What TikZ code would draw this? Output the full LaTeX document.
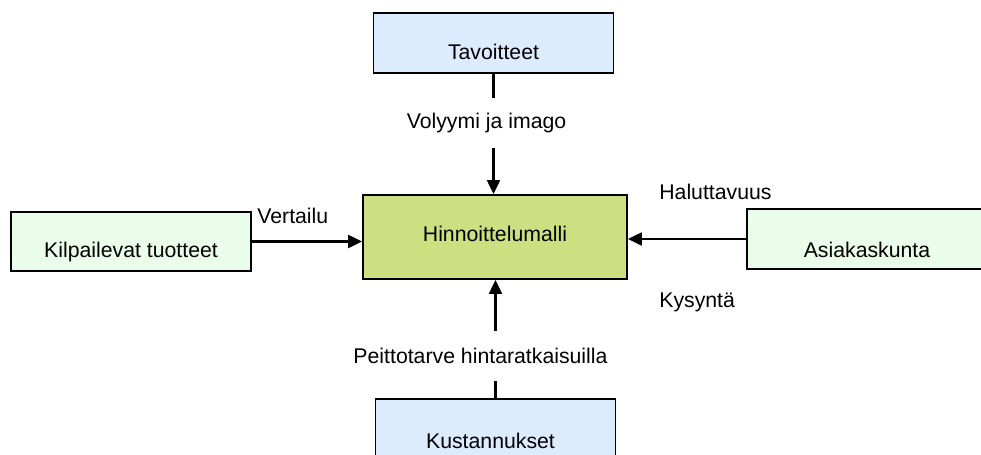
\documentclass[tikz,border=0pt]{standalone}
\usepackage{fontspec}
\setmainfont{Liberation Sans}
\usetikzlibrary{arrows.meta}

\definecolor{boxblue}{RGB}{221,235,255}
\definecolor{boxmint}{RGB}{234,252,234}
\definecolor{boxlime}{RGB}{204,224,130}

\tikzset{
  txt/.style={font=\fontsize{12.1pt}{14pt}\selectfont, inner sep=0pt},
  box/.style={draw, line width=1.1pt, minimum width=4.8cm, minimum height=1.2cm, inner sep=0pt},
  bluebox/.style={box, fill=boxblue},
  mintbox/.style={box, fill=boxmint},
  conn/.style={line width=1.3pt, -{Triangle[length=0.28cm, width=0.26cm]}},
  gap/.style={txt, fill=white, minimum height=1cm}
}

\begin{document}
\begin{tikzpicture}[x=0.02cm, y=-0.02cm]
    \useasboundingbox (0,0) rectangle (981,454);
    \clip (0,0) rectangle (981,454);

    \node[box, fill=boxlime, minimum width=5.28cm, minimum height=1.68cm] (malli) at (495,237) {};
    \node[txt] at ([yshift=0.06cm]malli.center) {Hinnoittelumalli};

    \node[bluebox] (tav) at (493.5,43) {};
    \node[txt] at ([yshift=-0.17cm]tav.center) {Tavoitteet};

    \node[bluebox] (kus) at (495.5,429) {};
    \node[txt] at ([xshift=-0.1cm, yshift=-0.24cm]kus.center) {Kustannukset};

    \node[mintbox, minimum height=1.18cm] (kil) at (131,241.5) {};
    \node[txt] at ([yshift=-0.21cm]kil.center) {Kilpailevat tuotteet};

    \node[mintbox] (ask) at (867,239) {};
    \node[txt] at ([yshift=-0.22cm]ask.center) {Asiakaskunta};

    % connectors
    \draw[conn] (tav.south) -- node[gap, pos=0.41, xshift=-0.14cm] {Volyymi ja imago} (tav.south |- malli.north);
    \draw[conn] (kus.north) -- node[gap, pos=0.36, xshift=-0.3cm] {Peittotarve hintaratkaisuilla} (kus.north |- malli.south);
    \draw[conn] (kil.east) -- (kil.east -| malli.west);
    \draw[conn] (ask.west) -- (ask.west -| malli.east);

    \node[txt, anchor=west] (vert) at (257,216) {Vertailu};
    \node[txt, anchor=west] (halu) at (659,192) {Haluttavuus};
    \node[txt, anchor=west] (kysy) at (659,302) {Kysyntä};
\end{tikzpicture}
\end{document}
